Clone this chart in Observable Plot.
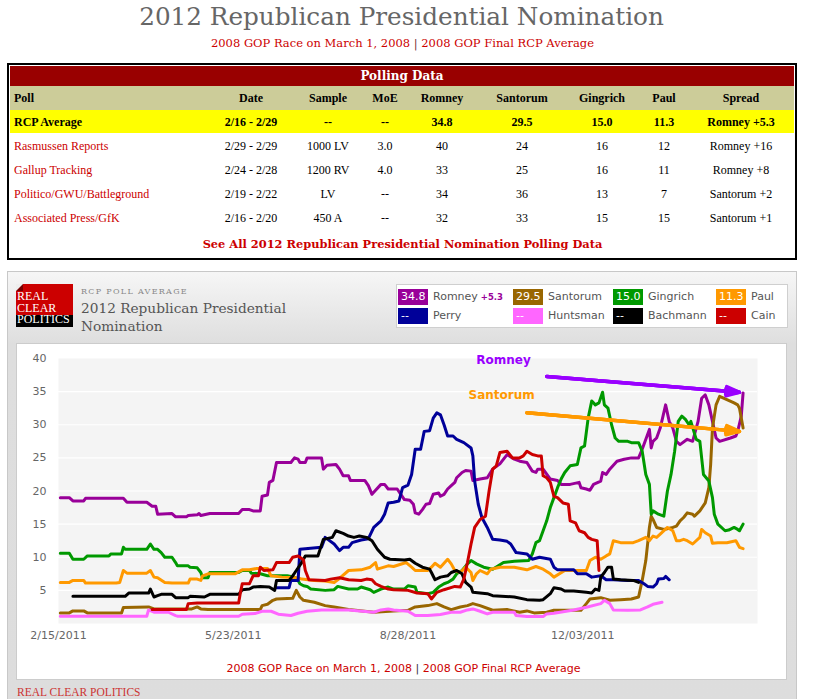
<!DOCTYPE html>
<html><head><meta charset="utf-8">
<script src="https://cdn.jsdelivr.net/npm/d3@7"></script>
<script src="https://cdn.jsdelivr.net/npm/@observablehq/plot@0.6"></script>
<style>
html,body{margin:0;padding:0;background:#fff;}
body{position:relative;width:814px;height:699px;overflow:hidden;}
.a{position:absolute;white-space:nowrap;}
</style></head><body>
<script>
// ---------- page text ----------
const pageTitle = "2012 Republican Presidential Nomination";
const linkParts = ["2008 GOP Race on March 1, 2008", "2008 GOP Final RCP Average"];
const tableTitle = "Polling Data";
const seeAllText = "See All 2012 Republican Presidential Nomination Polling Data";
const chartKicker = "RCP POLL AVERAGE";
const chartTitleLines = ["2012 Republican Presidential", "Nomination"];
const footerText = "REAL CLEAR POLITICS";
const logoLines = ["REAL", "CLEAR", "POLITICS"];

// ---------- polling table ----------
const tableHeaders = ["Poll","Date","Sample","MoE","Romney","Santorum","Gingrich","Paul","Spread"];
const pollNames = ["RCP Average","Rasmussen Reports","Gallup Tracking","Politico/GWU/Battleground","Associated Press/GfK"];
const pollDates = ["2/16 - 2/29","2/29 - 2/29","2/24 - 2/28","2/19 - 2/22","2/16 - 2/20"];
const pollSamples = ["--","1000 LV","1200 RV","LV","450 A"];
const pollMoE = ["--","3.0","4.0","--","--"];
const pollRomney = ["34.8","40","33","34","32"];
const pollSantorum = ["29.5","24","25","36","33"];
const pollGingrich = ["15.0","16","16","13","15"];
const pollPaul = ["11.3","12","11","7","15"];
const pollSpread = ["Romney +5.3","Romney +16","Romney +8","Santorum +2","Santorum +1"];

// ---------- legend ----------
const candidates = ["Romney","Santorum","Gingrich","Paul","Perry","Huntsman","Bachmann","Cain"];
const candidateColors = ["#990099","#996600","#009900","#FF9900","#000099","#FF66FF","#000000","#CC0000"];
const legendValues = ["34.8","29.5","15.0","11.3","--","--","--","--"];
const leaderSpread = "+5.3";

// ---------- axes ----------
const xDomain = ["2011-02-15","2012-03-09"];
const xTickDates = ["2011-02-15","2011-05-23","2011-08-28","2011-12-03"];
const xTickLabels = ["2/15/2011","5/23/2011","8/28/2011","12/03/2011"];
const yTicks = [5,10,15,20,25,30,35,40];
const gridValues = [5,10,15,20,25,30,35];

// ---------- series ----------
const romney = [["2011-02-16",19.0],["2011-02-21",19.0],["2011-02-23",18.5],["2011-03-01",18.5],["2011-03-02",18.9],["2011-03-23",18.9],["2011-03-25",18.3],["2011-04-05",18.3],["2011-04-08",17.7],["2011-04-10",17.7],["2011-04-11",16.5],["2011-04-19",16.6],["2011-04-21",16.1],["2011-04-27",16.1],["2011-04-28",16.3],["2011-05-03",16.4],["2011-05-04",16.6],["2011-05-05",16.3],["2011-05-10",16.6],["2011-05-26",16.6],["2011-05-28",17.2],["2011-06-01",17.2],["2011-06-03",17.0],["2011-06-07",17.0],["2011-06-08",19.2],["2011-06-11",19.4],["2011-06-12",21.3],["2011-06-14",21.6],["2011-06-16",24.3],["2011-06-24",24.3],["2011-06-26",25.0],["2011-06-28",24.8],["2011-06-29",24.3],["2011-07-02",24.3],["2011-07-03",25.0],["2011-07-11",25.0],["2011-07-12",23.3],["2011-07-14",23.9],["2011-07-19",24.0],["2011-07-21",23.3],["2011-07-23",22.3],["2011-07-26",22.3],["2011-07-27",21.6],["2011-08-04",21.6],["2011-08-06",20.8],["2011-08-08",19.5],["2011-08-10",20.1],["2011-08-13",21.0],["2011-08-15",21.0],["2011-08-17",20.3],["2011-08-22",20.3],["2011-08-24",19.5],["2011-08-26",18.7],["2011-08-29",18.6],["2011-08-31",18.0],["2011-09-01",16.7],["2011-09-03",16.5],["2011-09-05",17.2],["2011-09-07",18.0],["2011-09-09",18.1],["2011-09-11",19.5],["2011-09-14",19.7],["2011-09-15",19.2],["2011-09-17",19.5],["2011-09-19",20.3],["2011-09-21",20.8],["2011-09-23",21.3],["2011-09-24",22.0],["2011-09-27",22.8],["2011-09-29",23.1],["2011-10-02",23.0],["2011-10-03",21.6],["2011-10-07",21.8],["2011-10-11",22.0],["2011-10-14",23.3],["2011-10-18",24.1],["2011-10-22",25.5],["2011-10-26",24.8],["2011-10-29",24.5],["2011-11-02",24.3],["2011-11-05",23.0],["2011-11-07",22.8],["2011-11-08",23.3],["2011-11-11",23.3],["2011-11-15",21.8],["2011-11-19",21.6],["2011-11-21",21.0],["2011-11-26",21.0],["2011-12-01",21.3],["2011-12-02",20.5],["2011-12-05",20.3],["2011-12-07",20.1],["2011-12-09",21.0],["2011-12-13",21.5],["2011-12-14",22.8],["2011-12-16",22.5],["2011-12-18",23.3],["2011-12-22",24.5],["2011-12-26",24.8],["2011-12-30",25.0],["2012-01-03",25.0],["2012-01-05",26.3],["2012-01-09",29.3],["2012-01-10",26.5],["2012-01-11",27.5],["2012-01-13",28.0],["2012-01-15",29.5],["2012-01-18",33.0],["2012-01-20",30.5],["2012-01-22",29.5],["2012-01-24",27.5],["2012-01-26",27.0],["2012-01-30",27.8],["2012-02-02",27.5],["2012-02-05",30.5],["2012-02-07",34.0],["2012-02-09",34.5],["2012-02-11",33.0],["2012-02-13",30.5],["2012-02-15",28.0],["2012-02-17",27.5],["2012-02-23",28.0],["2012-02-26",28.3],["2012-02-27",29.0],["2012-02-29",31.3],["2012-03-01",34.8]];
const santorum = [["2011-02-16",1.6],["2011-02-21",1.6],["2011-02-23",1.9],["2011-03-01",1.9],["2011-03-03",1.6],["2011-03-22",1.6],["2011-03-23",2.4],["2011-04-06",2.5],["2011-04-09",2.2],["2011-04-30",2.2],["2011-05-03",2.5],["2011-05-05",2.2],["2011-05-09",2.1],["2011-06-07",2.1],["2011-06-08",2.7],["2011-06-11",2.9],["2011-06-14",3.5],["2011-06-16",3.7],["2011-06-25",3.8],["2011-06-27",5.0],["2011-06-29",4.0],["2011-07-01",3.5],["2011-07-07",3.2],["2011-07-13",2.7],["2011-07-18",2.5],["2011-07-26",2.1],["2011-08-09",1.7],["2011-08-20",1.9],["2011-08-28",2.0],["2011-09-01",2.5],["2011-09-08",2.7],["2011-09-13",3.0],["2011-09-17",2.5],["2011-09-21",2.1],["2011-09-26",2.5],["2011-09-30",2.7],["2011-10-03",3.0],["2011-10-07",2.7],["2011-10-14",2.0],["2011-10-22",2.1],["2011-10-29",1.7],["2011-11-02",1.9],["2011-11-06",1.6],["2011-11-13",1.7],["2011-11-17",2.0],["2011-12-02",2.0],["2011-12-05",3.0],["2011-12-07",3.7],["2011-12-13",3.9],["2011-12-18",3.5],["2011-12-24",3.6],["2011-12-30",3.7],["2012-01-03",4.0],["2012-01-05",6.5],["2012-01-07",9.5],["2012-01-09",14.5],["2012-01-10",16.2],["2012-01-11",15.7],["2012-01-13",14.5],["2012-01-17",14.2],["2012-01-22",14.5],["2012-01-24",14.7],["2012-01-26",15.5],["2012-01-28",16.0],["2012-01-30",16.7],["2012-02-02",16.5],["2012-02-03",16.2],["2012-02-06",17.0],["2012-02-09",18.2],["2012-02-11",20.5],["2012-02-12",24.0],["2012-02-13",29.5],["2012-02-15",33.0],["2012-02-17",34.3],["2012-02-21",33.8],["2012-02-25",33.3],["2012-02-27",33.0],["2012-02-28",32.5],["2012-02-29",31.0],["2012-03-01",29.5]];
const gingrich = [["2011-02-16",10.6],["2011-02-21",10.6],["2011-02-23",9.7],["2011-03-01",9.7],["2011-03-03",10.2],["2011-03-15",10.2],["2011-03-16",10.5],["2011-03-22",10.5],["2011-03-23",11.5],["2011-03-24",11.2],["2011-04-05",11.2],["2011-04-07",12.0],["2011-04-09",11.2],["2011-04-11",11.2],["2011-04-13",10.7],["2011-04-15",10.0],["2011-04-19",10.0],["2011-04-21",9.2],["2011-04-22",8.7],["2011-04-28",8.7],["2011-04-29",8.5],["2011-05-03",8.4],["2011-05-05",7.7],["2011-05-06",6.9],["2011-05-09",6.9],["2011-05-10",7.7],["2011-05-26",7.7],["2011-05-28",8.0],["2011-06-01",8.0],["2011-06-02",7.6],["2011-06-07",7.5],["2011-06-11",7.2],["2011-06-22",7.2],["2011-06-26",7.0],["2011-06-28",6.5],["2011-06-29",6.0],["2011-07-01",5.7],["2011-07-03",5.6],["2011-07-05",5.2],["2011-07-13",5.0],["2011-07-18",5.1],["2011-07-20",5.6],["2011-07-26",5.2],["2011-07-31",5.2],["2011-08-02",5.5],["2011-08-07",5.1],["2011-08-09",4.7],["2011-08-13",5.2],["2011-08-17",5.5],["2011-08-20",5.2],["2011-08-26",5.2],["2011-08-28",5.7],["2011-09-01",5.5],["2011-09-02",4.7],["2011-09-08",4.5],["2011-09-11",4.7],["2011-09-14",5.5],["2011-09-17",6.0],["2011-09-19",6.2],["2011-09-22",6.7],["2011-09-24",7.5],["2011-09-27",8.0],["2011-09-30",9.0],["2011-10-02",9.5],["2011-10-05",9.0],["2011-10-09",8.5],["2011-10-14",8.2],["2011-10-20",9.2],["2011-10-26",9.4],["2011-11-03",9.5],["2011-11-05",10.5],["2011-11-07",12.2],["2011-11-09",12.5],["2011-11-11",14.0],["2011-11-13",15.5],["2011-11-15",17.5],["2011-11-17",19.0],["2011-11-19",20.5],["2011-11-21",21.8],["2011-11-23",22.8],["2011-11-26",23.8],["2011-11-30",24.0],["2011-12-02",26.5],["2011-12-04",26.8],["2011-12-06",31.0],["2011-12-08",33.6],["2011-12-10",33.0],["2011-12-12",33.3],["2011-12-14",34.9],["2011-12-15",33.0],["2011-12-17",32.5],["2011-12-19",30.0],["2011-12-21",28.0],["2011-12-23",27.5],["2011-12-28",27.5],["2011-12-30",27.3],["2012-01-03",27.3],["2012-01-05",26.0],["2012-01-07",22.5],["2012-01-09",21.0],["2012-01-10",16.5],["2012-01-11",17.0],["2012-01-14",16.5],["2012-01-17",16.2],["2012-01-19",20.0],["2012-01-21",22.5],["2012-01-23",26.0],["2012-01-25",30.5],["2012-01-27",31.3],["2012-01-29",30.8],["2012-01-31",30.0],["2012-02-01",30.5],["2012-02-04",27.8],["2012-02-06",27.5],["2012-02-08",22.5],["2012-02-11",21.5],["2012-02-13",19.0],["2012-02-14",16.5],["2012-02-16",15.0],["2012-02-20",14.0],["2012-02-22",14.1],["2012-02-25",14.5],["2012-02-27",14.2],["2012-02-28",14.0],["2012-03-01",15.0]];
const paul = [["2011-02-16",6.2],["2011-02-21",6.2],["2011-02-23",6.5],["2011-03-01",6.5],["2011-03-02",6.1],["2011-03-19",6.1],["2011-03-21",6.2],["2011-03-23",8.0],["2011-03-25",7.6],["2011-04-05",7.6],["2011-04-07",8.0],["2011-04-09",7.0],["2011-04-11",6.9],["2011-04-15",6.2],["2011-04-19",6.1],["2011-04-28",6.1],["2011-04-29",6.7],["2011-05-03",6.7],["2011-05-05",6.5],["2011-05-06",7.2],["2011-05-09",7.5],["2011-05-24",7.5],["2011-05-28",8.1],["2011-06-01",8.1],["2011-06-05",8.3],["2011-06-11",8.3],["2011-06-13",7.2],["2011-06-19",7.0],["2011-06-28",6.9],["2011-06-30",6.7],["2011-07-07",6.5],["2011-07-13",6.4],["2011-07-18",6.2],["2011-07-20",6.6],["2011-07-26",8.0],["2011-08-02",8.1],["2011-08-07",8.5],["2011-08-10",9.2],["2011-08-11",8.2],["2011-08-17",8.7],["2011-08-20",8.6],["2011-08-27",9.2],["2011-08-30",8.5],["2011-09-01",8.0],["2011-09-08",8.0],["2011-09-10",8.5],["2011-09-12",9.1],["2011-09-15",8.5],["2011-09-17",9.1],["2011-09-19",9.7],["2011-09-21",9.0],["2011-09-23",8.0],["2011-09-26",7.7],["2011-09-29",8.5],["2011-10-02",7.7],["2011-10-03",6.5],["2011-10-05",7.5],["2011-10-07",8.0],["2011-10-11",7.5],["2011-10-13",8.2],["2011-10-18",8.5],["2011-10-26",8.5],["2011-11-02",8.1],["2011-11-07",8.6],["2011-11-11",8.2],["2011-11-15",7.5],["2011-11-17",7.0],["2011-11-23",8.0],["2011-12-05",8.0],["2011-12-07",9.5],["2011-12-10",10.0],["2011-12-13",9.7],["2011-12-16",10.2],["2011-12-18",10.5],["2011-12-20",12.5],["2011-12-24",12.2],["2011-12-31",12.2],["2012-01-03",12.5],["2012-01-07",13.0],["2012-01-09",12.5],["2012-01-11",13.2],["2012-01-13",13.0],["2012-01-15",13.5],["2012-01-19",14.5],["2012-01-22",14.0],["2012-01-24",12.5],["2012-01-26",12.5],["2012-01-28",12.7],["2012-01-30",12.5],["2012-02-02",12.0],["2012-02-06",13.0],["2012-02-07",14.2],["2012-02-09",13.7],["2012-02-12",13.2],["2012-02-13",12.1],["2012-02-16",12.2],["2012-02-21",12.2],["2012-02-26",12.5],["2012-02-28",11.5],["2012-03-01",11.3]];
const perry = [["2011-06-16",5.4],["2011-06-23",5.4],["2011-06-24",6.5],["2011-06-28",6.5],["2011-06-29",11.2],["2011-07-11",11.5],["2011-07-13",13.0],["2011-07-18",12.0],["2011-07-21",11.0],["2011-07-23",11.5],["2011-07-26",11.5],["2011-07-28",12.2],["2011-08-02",12.6],["2011-08-06",12.8],["2011-08-09",14.5],["2011-08-11",15.0],["2011-08-13",15.5],["2011-08-15",16.5],["2011-08-17",18.2],["2011-08-20",18.3],["2011-08-23",18.5],["2011-08-25",20.5],["2011-08-28",20.9],["2011-08-30",22.5],["2011-09-01",26.3],["2011-09-04",26.3],["2011-09-06",29.0],["2011-09-09",29.1],["2011-09-11",31.0],["2011-09-13",31.8],["2011-09-15",31.5],["2011-09-17",30.0],["2011-09-19",28.3],["2011-09-22",28.3],["2011-09-24",27.8],["2011-09-28",27.3],["2011-10-02",26.5],["2011-10-03",25.3],["2011-10-04",21.5],["2011-10-06",18.0],["2011-10-08",16.0],["2011-10-11",14.5],["2011-10-14",12.7],["2011-10-18",12.6],["2011-10-22",12.4],["2011-10-24",12.0],["2011-10-27",10.7],["2011-11-02",10.5],["2011-11-05",9.7],["2011-11-09",10.0],["2011-11-15",9.7],["2011-11-17",8.5],["2011-11-19",8.1],["2011-11-28",8.1],["2011-11-30",7.5],["2011-12-05",7.5],["2011-12-08",7.0],["2011-12-13",7.2],["2011-12-16",6.6],["2011-12-20",6.6],["2011-12-28",6.5],["2012-01-03",6.5],["2012-01-06",6.0],["2012-01-08",5.6],["2012-01-11",5.5],["2012-01-13",6.0],["2012-01-14",6.7],["2012-01-17",6.8],["2012-01-18",7.1],["2012-01-20",6.6]];
const huntsman = [["2011-02-16",1.1],["2011-04-05",1.1],["2011-04-06",2.05],["2011-04-09",1.7],["2011-04-17",1.7],["2011-04-21",1.2],["2011-04-22",1.1],["2011-05-26",1.1],["2011-05-28",1.4],["2011-06-04",1.5],["2011-06-08",1.85],["2011-06-13",1.85],["2011-06-17",1.4],["2011-06-24",1.2],["2011-06-28",1.55],["2011-07-03",1.85],["2011-07-11",2.05],["2011-07-26",2.05],["2011-08-09",1.7],["2011-08-13",2.05],["2011-08-17",2.2],["2011-08-20",2.05],["2011-08-28",1.85],["2011-09-01",1.2],["2011-09-08",1.2],["2011-09-15",1.35],["2011-09-21",1.7],["2011-09-26",1.7],["2011-09-30",2.05],["2011-10-03",2.2],["2011-10-07",1.85],["2011-10-11",1.45],["2011-10-14",1.7],["2011-10-26",1.7],["2011-10-27",1.2],["2011-11-02",1.05],["2011-11-11",1.05],["2011-11-13",1.45],["2011-11-17",1.55],["2011-11-28",2.05],["2011-12-05",2.45],["2011-12-13",3.0],["2011-12-15",3.5],["2011-12-18",3.0],["2011-12-20",2.05],["2011-12-28",2.0],["2012-01-04",2.05],["2012-01-08",2.5],["2012-01-11",2.9],["2012-01-16",3.2]];
const bachmann = [["2011-02-23",4.1],["2011-03-24",4.1],["2011-03-26",4.6],["2011-04-06",4.6],["2011-04-07",5.2],["2011-04-09",4.0],["2011-04-11",4.2],["2011-04-13",4.4],["2011-04-19",4.4],["2011-04-21",3.9],["2011-04-28",3.9],["2011-04-29",4.1],["2011-05-07",4.0],["2011-05-10",4.4],["2011-05-26",4.4],["2011-05-28",5.1],["2011-06-01",5.2],["2011-06-03",5.5],["2011-06-07",5.6],["2011-06-12",5.5],["2011-06-15",5.0],["2011-06-16",6.5],["2011-06-23",6.5],["2011-06-25",7.2],["2011-06-27",8.0],["2011-06-30",9.2],["2011-07-02",10.2],["2011-07-09",10.2],["2011-07-12",12.7],["2011-07-17",13.0],["2011-07-19",14.0],["2011-07-23",13.6],["2011-07-26",13.2],["2011-07-29",13.0],["2011-08-01",13.2],["2011-08-05",13.0],["2011-08-08",12.5],["2011-08-11",11.2],["2011-08-15",10.0],["2011-08-18",9.7],["2011-08-26",9.6],["2011-08-29",9.7],["2011-09-01",9.1],["2011-09-05",8.5],["2011-09-09",8.2],["2011-09-10",7.7],["2011-09-12",6.6],["2011-09-15",7.0],["2011-09-19",7.2],["2011-09-21",7.7],["2011-09-24",8.0],["2011-09-27",7.5],["2011-09-29",6.2],["2011-10-02",5.5],["2011-10-03",4.7],["2011-10-11",4.5],["2011-10-14",4.2],["2011-10-26",4.0],["2011-11-02",3.6],["2011-11-09",3.5],["2011-11-11",3.6],["2011-11-15",4.5],["2011-11-17",5.4],["2011-11-21",5.2],["2011-11-23",4.9],["2011-11-28",4.9],["2011-12-05",4.7],["2011-12-08",4.6],["2011-12-10",5.2],["2011-12-12",5.0],["2011-12-13",7.0],["2011-12-15",7.7],["2011-12-17",8.5],["2011-12-19",8.5],["2011-12-20",6.7],["2011-12-24",6.6],["2011-12-31",6.5],["2012-01-03",6.2]];
const cain = [["2011-04-08",2.1],["2011-04-27",2.1],["2011-04-28",3.0],["2011-05-03",3.1],["2011-05-26",3.1],["2011-05-27",4.7],["2011-05-28",6.0],["2011-06-01",6.0],["2011-06-03",7.2],["2011-06-06",7.2],["2011-06-07",8.5],["2011-06-09",8.0],["2011-06-14",8.1],["2011-06-16",9.2],["2011-06-23",9.2],["2011-06-25",10.0],["2011-06-28",10.2],["2011-07-01",9.6],["2011-07-02",8.0],["2011-07-04",6.6],["2011-07-13",6.5],["2011-07-16",6.7],["2011-07-21",6.9],["2011-07-26",6.6],["2011-08-02",6.5],["2011-08-05",6.7],["2011-08-08",6.6],["2011-08-10",6.0],["2011-08-13",5.6],["2011-08-17",5.2],["2011-08-20",5.1],["2011-08-28",5.0],["2011-09-02",4.6],["2011-09-08",4.5],["2011-09-10",3.7],["2011-09-13",4.7],["2011-09-17",5.1],["2011-09-23",5.6],["2011-09-26",5.5],["2011-09-28",6.7],["2011-09-30",9.2],["2011-10-02",12.0],["2011-10-04",14.5],["2011-10-07",15.7],["2011-10-10",16.2],["2011-10-12",20.0],["2011-10-14",23.3],["2011-10-16",23.8],["2011-10-18",25.8],["2011-10-22",26.0],["2011-10-25",25.0],["2011-10-29",25.0],["2011-10-31",25.3],["2011-11-02",26.0],["2011-11-05",25.5],["2011-11-08",25.3],["2011-11-10",25.3],["2011-11-11",22.3],["2011-11-13",22.0],["2011-11-15",21.3],["2011-11-17",19.2],["2011-11-19",19.0],["2011-11-22",18.2],["2011-11-25",18.0],["2011-11-26",15.5],["2011-11-29",15.2],["2011-12-01",14.0],["2011-12-04",13.7],["2011-12-06",13.0],["2011-12-08",12.7],["2011-12-11",12.5],["2011-12-12",8.0]];

// ---------- annotations ----------
const noteLabels = ["Romney","Santorum"];
const noteColors = ["#9900FF","#FF9900"];
const noteDates = ["2011-10-20","2011-10-19"];
const noteValues = [39.8, 34.4];
const arrowStartDates = ["2011-11-13","2011-11-02"];
const arrowStartValues = [37.3, 31.8];
const arrowEndDates = ["2012-02-28","2012-02-28"];
const arrowEndValues = [34.9, 29.0];

// ================= page build =================
const body = document.body;
function box(css, text, parent = body) {
  const d = document.createElement("div");
  d.className = "a";
  d.style.cssText = css;
  const lh = css.match(/line-height:([^;]+)/);
  if (lh) d.style.lineHeight = lh[1];   // font shorthand would otherwise reset it
  if (text != null) d.textContent = text;
  parent.appendChild(d);
  return d;
}
const SERIF = "'DejaVu Serif',serif", TIMES = "'Liberation Serif',serif", SANS = "'DejaVu Sans',sans-serif";

// header
box(`left:0;width:803px;top:3px;height:28px;line-height:28px;text-align:center;font:24.7px ${SERIF};color:#666`, pageTitle);
const sub = box(`left:0;width:805px;top:36px;height:14px;line-height:14px;text-align:center;font:11.5px ${SERIF};color:#CC0000`);
sub.append(linkParts[0]);
const sep1 = document.createElement("span"); sep1.textContent = " | "; sep1.style.color = "#7a3030"; sub.append(sep1);
sub.append(linkParts[1]);

// table
box(`left:7px;top:63px;width:790px;height:197px;box-sizing:border-box;border:2px solid #000;background:#fff`);
box(`left:10px;top:66px;width:784px;height:20px;line-height:20px;background:#990000;color:#fff;text-align:center;font:bold 12px ${SERIF}`, tableTitle);
box(`left:10px;top:86px;width:784px;height:24px;background:#CCCC99`);
box(`left:10px;top:110px;width:784px;height:23px;background:#FFFF00`);
const colLeft = [14,212,290,366,404,480,564,640,688];
const colWidth = [198,78,76,38,76,84,76,48,106];
function cellRow(values, cy, bold, firstColor) {
  values.forEach((v, i) => {
    box(`left:${colLeft[i]}px;width:${colWidth[i]}px;top:${cy-8}px;height:16px;line-height:16px;text-align:${i===0?"left":"center"};font:${bold?"bold ":""}12px ${TIMES};color:${i===0?firstColor:"#000"}`, v);
  });
}
cellRow(tableHeaders, 98, true, "#000");
const rowCenters = [122,146,170,194,218];
pollNames.forEach((n, r) => {
  cellRow([n, pollDates[r], pollSamples[r], pollMoE[r], pollRomney[r], pollSantorum[r], pollGingrich[r], pollPaul[r], pollSpread[r]],
    rowCenters[r], r === 0, r === 0 ? "#000" : "#CC0000");
});
box(`left:0;width:805px;top:235.5px;height:16px;line-height:16px;text-align:center;font:bold 11.4px ${SERIF};color:#CC0000`, seeAllText);

// chart container
box(`left:7px;top:271px;width:790px;height:440px;box-sizing:border-box;border:1px solid #c8c8c8;background:linear-gradient(#f6f6f6 0px,#dedede 72px,#dddddd 100%)`);
// logo
box(`left:16px;top:284px;width:57px;height:31px;background:#CC0000`);
box(`left:16px;top:284px;width:0;height:0;border-top:7px solid #eeeeee;border-right:7px solid #7a0000`);
box(`left:16px;top:315px;width:57px;height:12px;background:#000`);
box(`left:17px;top:291px;height:35px;line-height:11.6px;font:12px ${TIMES};color:#fff;white-space:pre`, logoLines.join("\n"));
box(`left:81px;top:287px;height:10px;line-height:10px;font:8px ${SERIF};letter-spacing:1.3px;color:#888`, chartKicker);
box(`left:81px;top:299px;height:18px;line-height:18px;font:13.7px ${SERIF};color:#555`, chartTitleLines[0]);
box(`left:81px;top:317px;height:18px;line-height:18px;font:13.7px ${SERIF};color:#555`, chartTitleLines[1]);

// legend
box(`left:396px;top:284px;width:392px;height:44px;box-sizing:border-box;border:1px solid #cfcfcf;background:#fff`);
const legSwatchLeft = [398,513,613,716];
const legRowTop = [289,308];
candidates.forEach((name, i) => {
  const col = i % 4, row = Math.floor(i / 4);
  const L = legSwatchLeft[col], T = legRowTop[row];
  box(`left:${L}px;top:${T}px;width:30px;height:16px;line-height:16px;background:${candidateColors[i]};color:#fff;font:11px ${SANS};padding-left:3px;box-sizing:border-box`, legendValues[i]);
  const lab = box(`left:${L+35}px;top:${T}px;height:16px;line-height:16px;font:11px ${SANS};color:#555`, name);
  if (i === 0) {
    const s = document.createElement("span");
    s.textContent = " " + leaderSpread;
    s.style.cssText = "color:#990099;font-weight:bold;font-size:8.5px;";
    lab.append(s);
  }
});

// white panel
box(`left:16px;top:343px;width:771px;height:337px;box-sizing:border-box;border:1px solid #ccc;background:#fff`);

// ---------- plot ----------
const parse = d3.utcParse("%Y-%m-%d");
const seriesList = [romney, santorum, gingrich, paul, perry, huntsman, bachmann, cain];
const rows = seriesList.flatMap((pts, i) => pts.map(([d, v]) => ({name: candidates[i], date: parse(d), value: v})));
const tickLabelMap = new Map(xTickDates.map((d, i) => [+parse(d), xTickLabels[i]]));
const notes = noteLabels.map((t, i) => ({text: t, color: noteColors[i], date: parse(noteDates[i]), value: noteValues[i],
  d1: parse(arrowStartDates[i]), v1: arrowStartValues[i], d2: parse(arrowEndDates[i]), v2: arrowEndValues[i]}));
const headAngles = [38, 24, 12];

const chart = Plot.plot({
  width: 771, height: 305,
  marginLeft: 42, marginRight: 30, marginTop: 15, marginBottom: 25,
  style: {background: "transparent", fontFamily: "DejaVu Sans", fontSize: "11px", color: "#666", overflow: "visible"},
  x: {type: "utc", domain: xDomain.map(parse), ticks: xTickDates.map(parse), tickFormat: d => tickLabelMap.get(+d), tickSize: 0, tickPadding: 8, label: null},
  y: {domain: [0, 40], ticks: yTicks, tickSize: 0, tickPadding: 12, label: null},
  color: {domain: candidates, range: candidateColors},
  marks: [
    Plot.frame({fill: "#f4f4f4", stroke: "none"}),
    Plot.ruleY(gridValues, {stroke: "#fff", strokeWidth: 1.2}),
    Plot.line(rows, {x: "date", y: "value", z: "name", stroke: "name", strokeWidth: 3, strokeLinejoin: "round", strokeLinecap: "round"}),
    ...notes.flatMap(n => headAngles.map(a => Plot.arrow([n], {x1: "d1", y1: "v1", x2: "d2", y2: "v2", stroke: n.color, strokeWidth: 3.5, headLength: 6, headAngle: a}))),
    ...notes.map(n => Plot.text([n], {x: "date", y: "value", text: "text", fill: n.color, fontWeight: "bold", fontSize: 12, fontFamily: "DejaVu Sans"}))
  ]
});
const holder = box(`left:16px;top:343px;width:771px;height:305px`);
holder.appendChild(chart);

// caption & footer
const cap = box(`left:0;width:807px;top:662px;height:14px;line-height:14px;text-align:center;font:11px ${SANS};color:#CC0000`);
cap.append(linkParts[0]);
const sep2 = document.createElement("span"); sep2.textContent = " | "; sep2.style.color = "#333"; cap.append(sep2);
cap.append(linkParts[1]);
box(`left:17px;top:685px;height:14px;line-height:14px;font:11.5px ${TIMES};color:#cc3333`, footerText);
</script>
</body></html>
